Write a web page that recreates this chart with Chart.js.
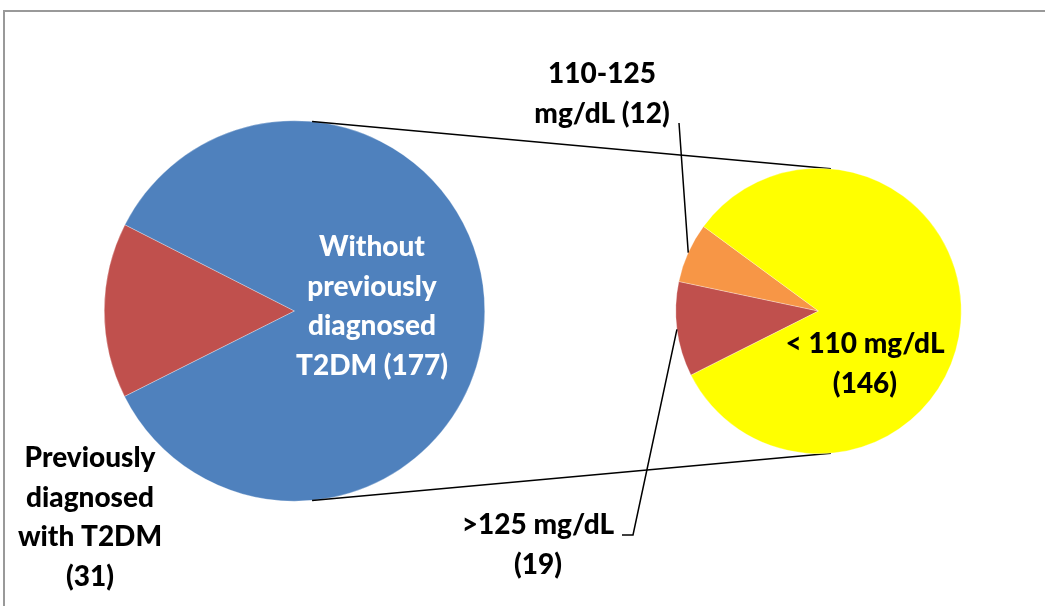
<!DOCTYPE html>
<html>
<head>
<meta charset="utf-8">
<script src="https://cdn.jsdelivr.net/npm/chart.js@4.4.1/dist/chart.umd.min.js"></script>
<style>
  body { margin: 0; background: #fff; }
  #wrap { position: relative; width: 1045px; height: 606px; overflow: hidden; }
  #frame { position: absolute; left: 3px; top: 10px; width: 1100px; height: 700px; border: 2px solid #999; }
  canvas { position: absolute; left: 0; top: 0; }
</style>
</head>
<body>
<div id="wrap">
  <div id="frame"></div>
  <canvas id="mainPie" width="1045" height="606"></canvas>
  <canvas id="subPie" width="1045" height="606"></canvas>
</div>
<script>
// main pie: everyone
const mainLabels = ['Previously diagnosed with T2DM', 'Without previously diagnosed T2DM'];
const mainValues = [31, 177];
const mainColors = ['#c0504d', '#4f81bd'];
// how each label is broken into lines, {v} is the value
const mainLabelLines = [
  ['Previously', 'diagnosed', 'with T2DM', '({v})'],
  ['Without', 'previously', 'diagnosed', 'T2DM ({v})']
];

// second pie: those without previous diagnosis, by glucose
const subLabels = ['>125 mg/dL', '110-125 mg/dL', '< 110 mg/dL'];
const subValues = [19, 12, 146];
const subColors = ['#c0504d', '#f79646', '#ffff00'];
const subLabelLines = [
  ['>125 mg/dL', '({v})'],
  ['110-125', 'mg/dL ({v})'],
  ['< 110 mg/dL', '({v})']
];

const FONT = '900 28px Lato';
const LINE_H = 39.5;

function drawLines(ctx, lines, value, x, y, color) {
  ctx.save();
  ctx.font = FONT;
  ctx.fillStyle = color;
  ctx.textAlign = 'center';
  ctx.textBaseline = 'middle';
  lines.forEach((l, i) => ctx.fillText(l.replace('{v}', value), x, y + i * LINE_H));
  ctx.restore();
}

function edgePoint(arc, deg) {
  const a = deg * Math.PI / 180;
  return { x: arc.x + arc.outerRadius * Math.cos(a), y: arc.y + arc.outerRadius * Math.sin(a) };
}

function midPoint(arc) {
  const a = (arc.startAngle + arc.endAngle) / 2;
  return { x: arc.x + arc.outerRadius * Math.cos(a), y: arc.y + arc.outerRadius * Math.sin(a) };
}

const mainLabelPlugin = {
  id: 'mainLabels',
  afterDatasetsDraw(chart) {
    const ctx = chart.ctx;
    drawLines(ctx, mainLabelLines[0], mainValues[0], 90, 458, '#000');
    drawLines(ctx, mainLabelLines[1], mainValues[1], 372, 247, '#fff');
  }
};

const pieOpts = (pad) => ({
  responsive: false,
  animation: false,
  rotation: 243.3,
  layout: { padding: pad },
  plugins: { legend: { display: false }, tooltip: { enabled: false } },
  events: []
});

const mainChart = new Chart(document.getElementById('mainPie'), {
  type: 'pie',
  data: {
    labels: mainLabels,
    datasets: [{
      data: mainValues,
      backgroundColor: mainColors,
      borderColor: 'rgba(255,255,255,0.6)',
      borderWidth: 0.5,
      hoverOffset: 0,
      offset: 0
    }]
  },
  options: pieOpts({ left: 104, right: 560, top: 120, bottom: 104 }),
  plugins: [mainLabelPlugin]
});

const subPlugin = {
  id: 'subExtras',
  beforeDatasetsDraw(chart) {
    const ctx = chart.ctx;
    const big = mainChart.getDatasetMeta(0).data[0];
    const small = chart.getDatasetMeta(0).data[0];
    const p1 = edgePoint(big, -84.7), p2 = edgePoint(small, -85);
    const p3 = edgePoint(big, 84.7), p4 = edgePoint(small, 85);
    ctx.save();
    ctx.strokeStyle = '#000';
    ctx.lineWidth = 1.5;
    ctx.beginPath();
    ctx.moveTo(p1.x, p1.y); ctx.lineTo(p2.x, p2.y);
    ctx.moveTo(p3.x, p3.y); ctx.lineTo(p4.x, p4.y);
    ctx.stroke();
    ctx.restore();
  },
  afterDatasetsDraw(chart) {
    const ctx = chart.ctx;
    const arcs = chart.getDatasetMeta(0).data;
    const mRed = midPoint(arcs[0]);
    const mOrange = midPoint(arcs[1]);
    ctx.save();
    ctx.strokeStyle = '#000';
    ctx.lineWidth = 1.5;
    ctx.beginPath();
    ctx.moveTo(679, 123); ctx.lineTo(mOrange.x, mOrange.y);
    ctx.moveTo(622, 535); ctx.lineTo(633, 535); ctx.lineTo(mRed.x, mRed.y);
    ctx.stroke();
    ctx.restore();
    drawLines(ctx, subLabelLines[0], subValues[0], 538, 525, '#000');
    drawLines(ctx, subLabelLines[1], subValues[1], 602, 74, '#000');
    drawLines(ctx, subLabelLines[2], subValues[2], 865, 344, '#000');
  }
};

const subChart = new Chart(document.getElementById('subPie'), {
  type: 'pie',
  data: {
    labels: subLabels,
    datasets: [{
      data: subValues,
      backgroundColor: subColors,
      borderColor: 'rgba(255,255,255,0.6)',
      borderWidth: 0.5,
      hoverOffset: 0,
      offset: 0
    }]
  },
  options: pieOpts({ left: 675, right: 83, top: 168, bottom: 152 }),
  plugins: [subPlugin]
});
</script>
</body>
</html>
